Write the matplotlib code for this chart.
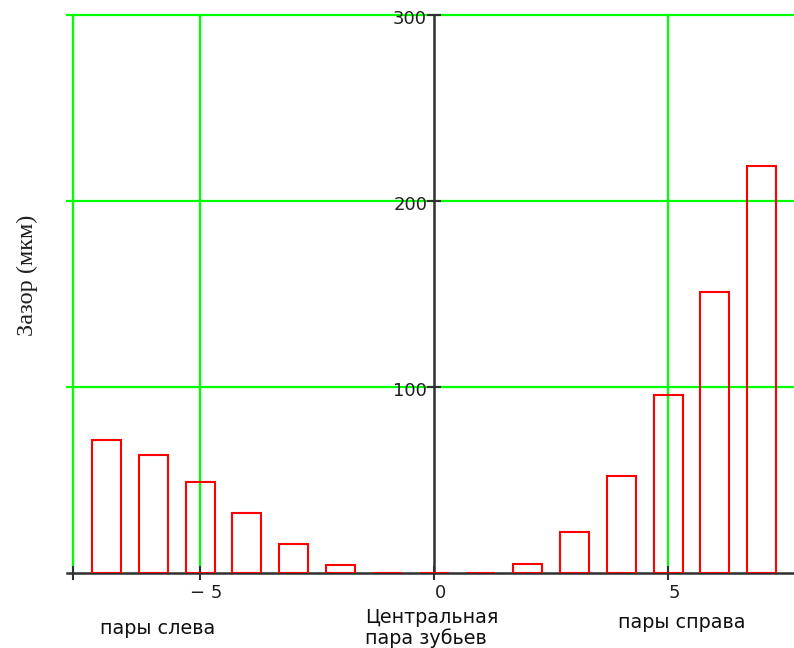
import matplotlib
matplotlib.use("Agg")
import matplotlib.pyplot as plt
from matplotlib.transforms import ScaledTranslation

# Gap per tooth pair, relative to the central pair (index 0)
pair_index = [-7, -6, -5, -4, -3, -2, -1, 0, 1, 2, 3, 4, 5, 6, 7]
gap_um = [71.7, 63.4, 49.2, 32.3, 15.8, 4.3, 0, 0, 0, 5.0, 22.4, 52.3, 95.9, 151.4, 218.6]

y_ticks = [100, 200, 300]
x_ticks = [-7.72, -5, 0, 5]
x_tick_labels = ["", "\u2212 5", "0", "5"]

GREEN = "#00ff00"
RED = "#ff0000"
AXIS = "#303030"

fig = plt.figure(figsize=(7.94, 6.48), dpi=100)
ax = fig.add_axes([0.084, 0.1153, 0.916, 0.8616])
ax.set_xlim(-7.85, 7.69)
ax.set_ylim(0, 300)

# grid: horizontal at the y ticks, vertical at the plot boundary and ±5
for yv in y_ticks:
    ax.axhline(yv, color=GREEN, lw=1.6, zorder=1, clip_on=False)
for xv in (-7.72, -5, 5):
    ax.axvline(xv, color=GREEN, lw=1.6, zorder=1, clip_on=False)

ax.bar(pair_index, gap_um, width=0.62, facecolor="none", edgecolor=RED,
       linewidth=1.5, zorder=4)

# axes crossing at the origin
for s in ("top", "right"):
    ax.spines[s].set_visible(False)
ax.spines["left"].set_position(("data", 0))
ax.spines["left"].set_bounds(0, 300)
for s in ("left", "bottom"):
    ax.spines[s].set_color(AXIS)
    ax.spines[s].set_linewidth(1.8)
    ax.spines[s].set_zorder(3)

ax.set_yticks(y_ticks)
ax.set_yticklabels([str(v) for v in y_ticks])
ax.set_xticks(x_ticks)
ax.set_xticklabels(x_tick_labels)
ax.tick_params(axis="both", direction="inout", length=10, width=1.5,
               color=AXIS, labelsize=13, labelcolor="#202020")
ax.tick_params(axis="y", pad=0)
ax.tick_params(axis="x", pad=3)
for lab in ax.get_xticklabels() + ax.get_yticklabels():
    lab.set_fontfamily("DejaVu Sans")
shift = ScaledTranslation(6 / 100, 0, fig.dpi_scale_trans)
for lab in ax.get_xticklabels():
    lab.set_transform(lab.get_transform() + shift)
shift_y = ScaledTranslation(0, -2 / 100, fig.dpi_scale_trans)
for lab in ax.get_yticklabels():
    lab.set_transform(lab.get_transform() + shift_y)

# group captions under the axis
cap = dict(fontsize=13.8, family="DejaVu Sans", color="#101010")
fig.text(157.5 / 794, 1 - 629 / 648, "пары слева", ha="center", va="center", **cap)
fig.text(365 / 794, 1 - 628 / 648, "Центральная\nпара зубьев", ha="left",
         va="center", linespacing=1.05, **cap)
fig.text(682 / 794, 1 - 622 / 648, "пары справа", ha="center", va="center", **cap)

fig.text(27.5 / 794, 1 - 275 / 648, "Зазор (мкм)", rotation=90, ha="center",
         va="center", fontsize=17.5, family="Liberation Serif", color="#202020")

fig.savefig("out.png", dpi=100)
